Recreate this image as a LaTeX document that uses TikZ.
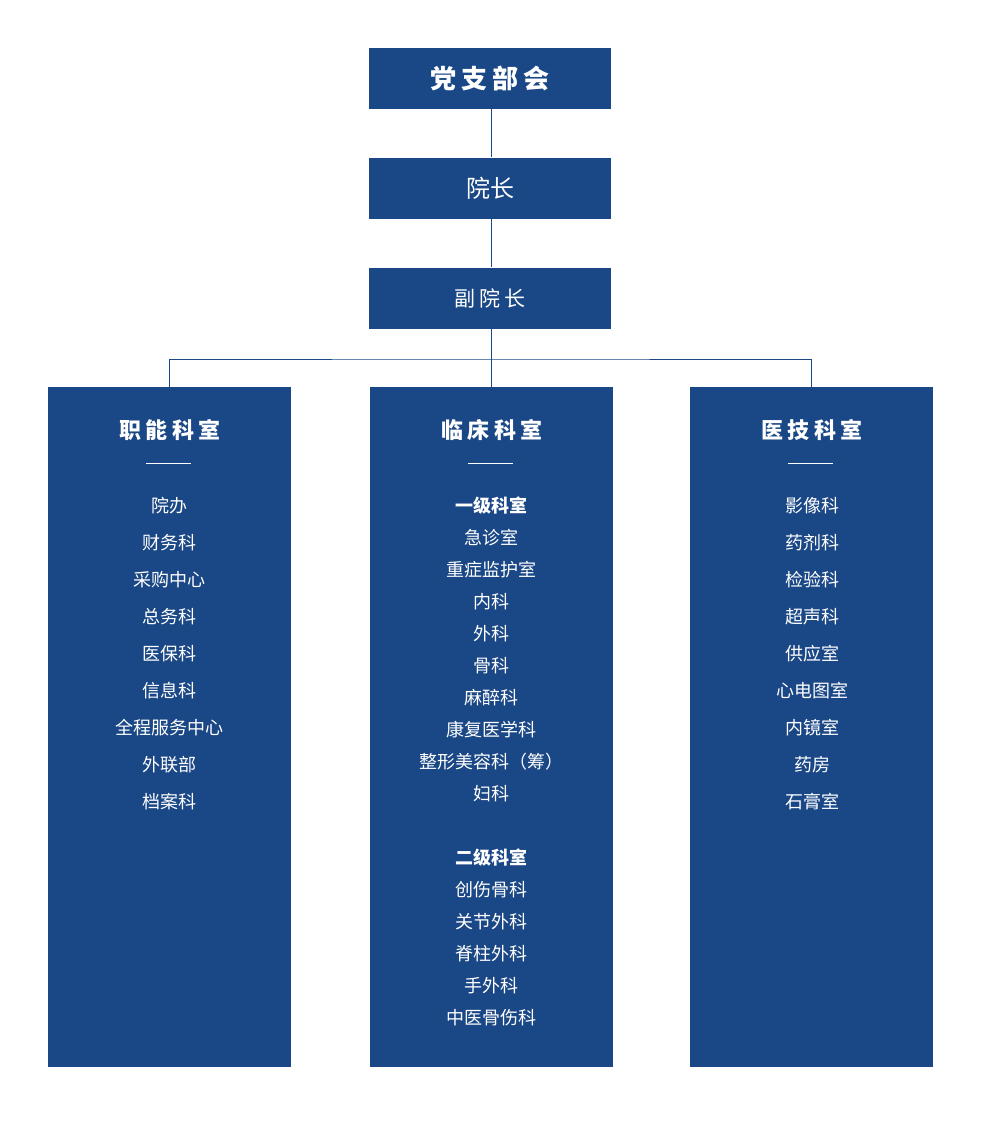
\documentclass[tikz,border=0pt]{standalone}
\usepackage{fontspec}
\setmainfont{Noto Sans CJK SC}
\newfontfamily\cjkspaced[LetterSpace=20]{Noto Sans CJK SC}
\usetikzlibrary{positioning}
\definecolor{yuanblue}{HTML}{1A4785}

\tikzset{
  topbox/.style={fill=yuanblue, text=white, minimum width=121pt, minimum height=30.5pt, inner sep=0pt},
  colbox/.style={fill=yuanblue, minimum width=121.5pt, minimum height=340pt, anchor=north, inner sep=0pt},
  coltitle/.style={text=white, inner sep=0pt, font=\cjkspaced\bfseries\fontsize{11pt}{12pt}\selectfont},
  item/.style={text=white, inner sep=0pt, font=\fontsize{9pt}{10pt}\selectfont},
  subhead/.style={item, font=\bfseries\fontsize{9pt}{10pt}\selectfont},
  link/.style={draw=yuanblue, line width=0.5pt},
  rule/.style={draw=white, line width=0.5pt}
}

\begin{document}
\begin{tikzpicture}[x=0.5pt, y=-0.5pt]
  \useasboundingbox (0,0) rectangle (982,1141);

  % Direction
  \node[topbox, font=\cjkspaced\bfseries\fontsize{13pt}{14pt}\selectfont] (dang) at (490,78) {党支部会};
  \node[topbox, font=\fontsize{12pt}{14pt}\selectfont] (yuanzhang) at (490,188) {院长};
  \node[topbox, font=\cjkspaced\fontsize{10.5pt}{12pt}\selectfont] (fuyuan) at (490,298) {副院长};

  % Trois colonnes
  \node[colbox] (zhineng) at (169,387) {};
  \node[colbox] (linchuang) at (491,387) {};
  \node[colbox] (yiji) at (811,387) {};

  \draw[link] (dang.south -| linchuang.north) -- (yuanzhang.north -| linchuang.north);
  \draw[link] (yuanzhang.south -| linchuang.north) -- (fuyuan.north -| linchuang.north);
  \coordinate (split) at (491,359);
  \draw[link] (fuyuan.south -| linchuang.north) -- (linchuang.north);
  \draw[link] (zhineng.north) |- (split) -| (yiji.north);

  % Titres des colonnes
  \node[coltitle] (zhineng-t) at (170,430) {职能科室};
  \node[coltitle] (linchuang-t) at (492,430) {临床科室};
  \node[coltitle] (yiji-t) at (812,430) {医技科室};
  \foreach \cx in {168,490,810}
    \draw[rule] (\cx-22.5,463) -- (\cx+22.5,463);

  % Fonctionnels
  \foreach \name [count=\i from 0] in {院办,财务科,采购中心,总务科,医保科,信息科,全程服务中心,外联部,档案科}
    \node[item] (zn-\i) at (169,506+37*\i) {\name};

  % Cliniques
  \node[subhead] (lc-a) at (491,506) {一级科室};
  \foreach \name [count=\i] in {急诊室,重症监护室,内科,外科,骨科,麻醉科,康复医学科,整形美容科（筹）,妇科}
    \node[item] (lc-a\i) at (491,506+32*\i) {\name};
  \node[subhead] (lc-b) at (491,858) {二级科室};
  \foreach \name [count=\i] in {创伤骨科,关节外科,脊柱外科,手外科,中医骨伤科}
    \node[item] (lc-b\i) at (491,858+32*\i) {\name};

  % Médico-techniques
  \foreach \name [count=\i from 0] in {影像科,药剂科,检验科,超声科,供应室,心电图室,内镜室,药房,石膏室}
    \node[item] (yj-\i) at (812,506+37*\i) {\name};
\end{tikzpicture}
\end{document}
